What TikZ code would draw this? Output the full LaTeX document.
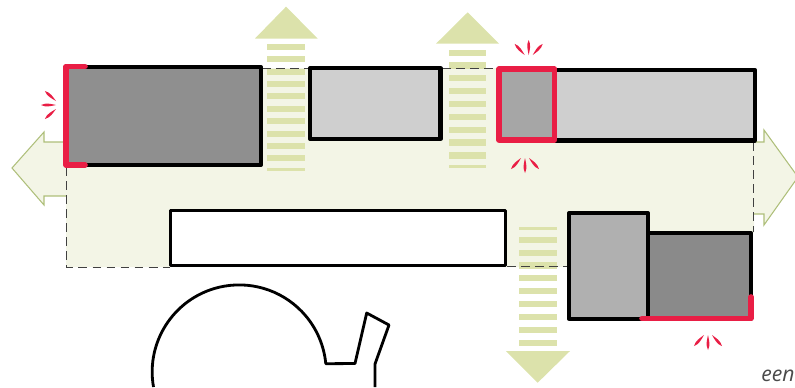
\documentclass[tikz,border=0pt]{standalone}
\usepackage{fontspec}
\usepackage{xcolor}
\usetikzlibrary{positioning}
\newfontfamily\labelfont{Open Sans}
\definecolor{yardgreen}{HTML}{F3F5E6}
\definecolor{yardline}{HTML}{AEBF7A}
\definecolor{stripegreen}{HTML}{DCE2AB}
\definecolor{hotred}{HTML}{E91E45}
\definecolor{labelgrey}{HTML}{4A4A4A}

\begin{document}
\begin{tikzpicture}[x=0.02cm, y=-0.02cm,
    block/.style={draw=black, line width=2.3pt, line join=round},
    hotedge/.style={draw=hotred, line width=3.2pt, line join=round, line cap=round},
    yardedge/.style={draw=yardline, line width=0.6pt},
    limit/.style={draw=black!75, line width=0.5pt, dash pattern=on 5pt off 3pt},
    outline/.style={draw=black, line width=1.6pt, line join=round},
    spark/.pic={
      \foreach \ang/\off in {0/0, 42/-4, -42/4}
        \fill[hotred, shift={(\off,-1)}, rotate=\ang] (0,0) .. controls (-1,-5) and (-2.6,-10) .. (0,-15) .. controls (2.6,-10) and (1,-5) .. (0,0);
    }]
  \useasboundingbox (0,0) rectangle (795,387);

  \fill[yardgreen] (66,68) -- (754,68) -- (754,233) -- (648,233) -- (648,267) -- (66,267) -- cycle;
  \fill[yardgreen] (66,142) -- (44,142) -- (44,132) -- (12,168) -- (44,205) -- (44,196) -- (66,196) -- cycle;
  \fill[yardgreen] (753,142) -- (764,142) -- (764,130) -- (798,177) -- (764,225) -- (764,214) -- (753,214) -- cycle;
  \draw[yardedge] (64,142) -- (44,142) -- (44,132) -- (12,168) -- (44,205) -- (44,196) -- (66,196);
  \draw[yardedge] (756,142) -- (764,142) -- (764,130) -- (798,177) -- (764,225) -- (764,214) -- (753,214);

  \foreach \i in {0,...,9}
    \fill[stripegreen] (267,43.7+12.4*\i) rectangle (305,49.7+12.4*\i);
  \fill[stripegreen] (267,167.5) rectangle (305,170.7);
  \foreach \i in {0,...,8}
    \fill[stripegreen] (449,49.5+12.85*\i) rectangle (486,55.7+12.85*\i);
  \fill[stripegreen] (449,165) rectangle (486,168.3);
  \fill[stripegreen] (519,227) rectangle (557,230);
  \foreach \i in {0,...,8}
    \fill[stripegreen] (519,236.7+12.85*\i) rectangle (557,242.9+12.85*\i);
  \fill[stripegreen] (255,38.5) -- (286,6.7) -- (317.7,38.5) -- cycle;
  \fill[stripegreen] (436,43.7) -- (467.7,12.3) -- (499,43.7) -- cycle;
  \fill[stripegreen] (506,351) -- (537.7,382.7) -- (570,351) -- cycle;

  \draw[limit] (66,167) -- (66,267) -- (170,267);
  \draw[limit] (262,68) -- (308,68);
  \draw[limit] (442,68) -- (497,68);
  \draw[limit] (507,266) -- (568,266);
  \draw[limit] (753.5,142) -- (753.5,232);

  \draw[block, fill=black!44] (66,67) rectangle (261,165);
  \draw[block, fill=black!19] (310,68) rectangle (440.5,139);
  \draw[block, fill=black!19] (554,69.7) rectangle (754.7,140.5);
  \draw[block, fill=white, line width=1.7pt] (170.5,210) rectangle (505.5,265.5);
  \draw[block, fill=black!31] (569,213) rectangle (648,318.7);
  \draw[block, fill=black!46] (648,233) rectangle (751,318.5);

  \draw[hotedge, fill=black!35] (499,69) rectangle (554.5,139.7);
  \draw[hotedge] (85,66.5) -- (66,66.5) -- (66,165) -- (85,165);
  \draw[hotedge] (642,318.5) -- (751,318.5) -- (751,297);

  \pic at (57,105) [rotate=90] {spark};
  \pic at (528.7,56) {spark};
  \pic at (525,157) [rotate=180] {spark};
  \pic at (708,334) [rotate=180] {spark};

  \draw[outline] (153.5,387) arc[start angle=170, end angle=354.6, radius=87] -- (355,363.5) -- (366.7,313) -- (389,325) -- (375,364) -- (375,387);

  \node[anchor=base west, inner sep=0pt, text=labelgrey, font=\labelfont\itshape\fontsize{12pt}{14pt}\selectfont] (tag) at (761,381.5) {een};
\end{tikzpicture}
\end{document}
